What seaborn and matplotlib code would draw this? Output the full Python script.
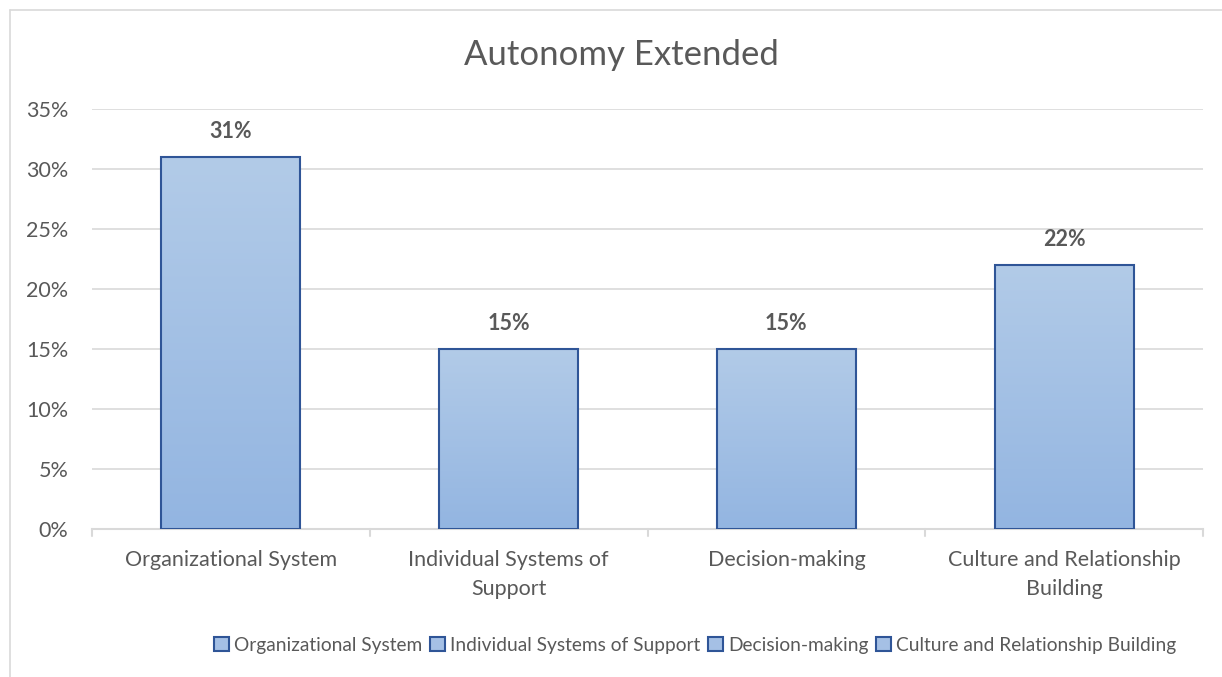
import matplotlib
matplotlib.use("Agg")
import matplotlib.pyplot as plt
import seaborn as sns
import numpy as np
import pandas as pd
from matplotlib.patches import Patch
from matplotlib.lines import Line2D
from matplotlib.ticker import FuncFormatter, MultipleLocator
from matplotlib.colors import LinearSegmentedColormap

categories = ["Organizational System", "Individual Systems of Support",
              "Decision-making", "Culture and Relationship Building"]
tick_labels = ["Organizational System", "Individual Systems of\nSupport",
               "Decision-making", "Culture and Relationship\nBuilding"]
values = [0.31, 0.15, 0.15, 0.22]
value_labels = ["31%", "15%", "15%", "22%"]
title = "Autonomy Extended"

sns.set_theme(style="white")
plt.rcParams['font.family'] = ['Lato', 'DejaVu Sans']

TXT = "#595959"
EDGE = "#2F5597"
GRID = "#D9D9D9"

fig = plt.figure(figsize=(12.22, 6.77), dpi=100)
ax = fig.add_axes([92/1222, 1-529/677, (1203-92)/1222, (529-109)/677])

df = pd.DataFrame({"cat": categories, "val": values})
sns.barplot(data=df, x="cat", y="val", color="#A5C0E5", width=0.5, ax=ax,
            edgecolor=EDGE, linewidth=1.5, saturation=1)

# gradient fill
grad = np.linspace(0, 1, 256).reshape(-1, 1)
cmap = LinearSegmentedColormap.from_list("g", ["#93B5E1", "#B2CBE8"])
for p in ax.patches:
    x0, y0 = p.get_x(), p.get_y()
    w, h = p.get_width(), p.get_height()
    im = ax.imshow(grad, cmap=cmap, aspect="auto", origin="lower",
                   extent=[x0, x0 + w, y0, y0 + h], zorder=2)
    im.set_clip_path(p)
    p.set_zorder(3)
    p.set_facecolor("none")

ax.set_xlim(-0.5, 3.5)
ax.set_ylim(0, 0.35)
ax.yaxis.set_major_locator(MultipleLocator(0.05))
ax.yaxis.set_major_formatter(FuncFormatter(lambda v, _: f"{v*100:.0f}%"))
ax.grid(axis="y", color=GRID, linewidth=1.2, zorder=0)
ax.set_axisbelow(True)
for s in ["top", "right", "left"]:
    ax.spines[s].set_visible(False)
ax.spines["bottom"].set_color(GRID)
ax.spines["bottom"].set_linewidth(1.5)

ax.set_xticks(range(len(categories)))
ax.set_xticklabels(tick_labels, color=TXT, fontsize=15.5, linespacing=1.6)
ax.tick_params(axis="x", length=0, pad=15)
ax.tick_params(axis="y", length=0, pad=17, labelcolor=TXT, labelsize=15.5)
ax.set_xlabel("")
ax.set_ylabel("")

# category separator ticks
for xb in np.arange(-0.5, 4.0, 1.0):
    ax.plot([xb, xb], [0, -0.006], color=GRID, lw=1.5, clip_on=False, zorder=1)

for i, (v, lab) in enumerate(zip(values, value_labels)):
    ax.annotate(lab, (i, v), xytext=(0, 11), textcoords="offset points",
                ha="center", va="bottom", fontsize=15.5, fontweight="bold",
                color=TXT)

fig.text(621/1222, 1-55/677, title, ha="center", va="center",
         fontsize=25, color=TXT)

handles = [Patch(facecolor="#A5C0E5", edgecolor=EDGE, linewidth=1.5)
           for _ in categories]
fig.legend(handles, categories, loc="center", bbox_to_anchor=(695/1222, 1-645/677),
           ncol=4, frameon=False, fontsize=13.8, labelcolor=TXT,
           handlelength=0.8, handleheight=0.8, handletextpad=0.25,
           columnspacing=0.4)

# outer chart border
fig.add_artist(Line2D([10/1222, 10/1222], [0, 1-10/677], color=GRID, lw=1.2,
                      transform=fig.transFigure))
fig.add_artist(Line2D([10/1222, 1], [1-10/677, 1-10/677], color=GRID, lw=1.2,
                      transform=fig.transFigure))

fig.savefig("out.png", dpi=100)
